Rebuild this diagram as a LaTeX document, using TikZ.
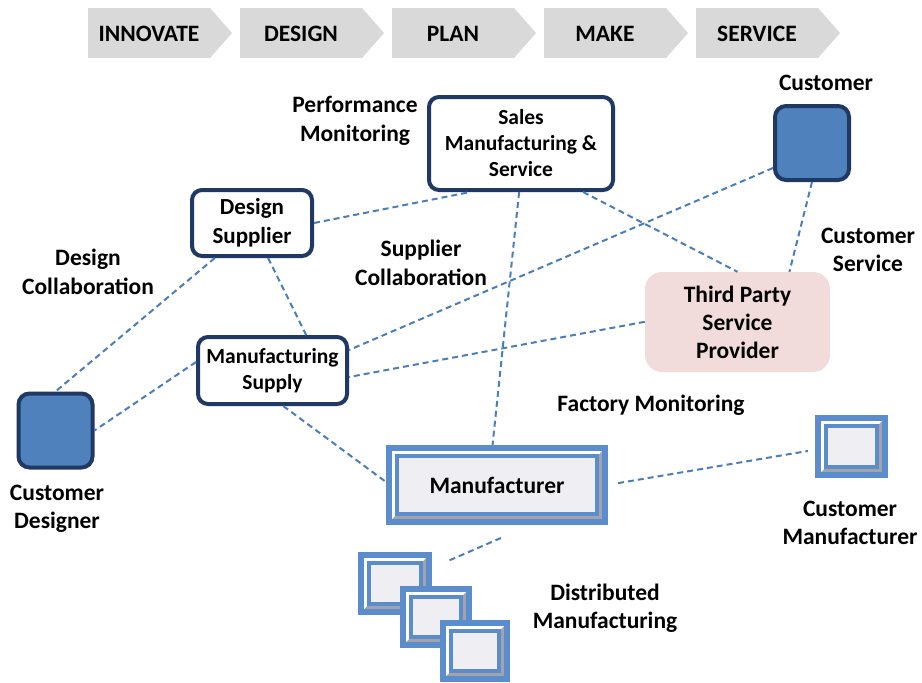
\documentclass[tikz,border=0pt]{standalone}
\usepackage{fontspec}
\setmainfont{Carlito}
\usetikzlibrary{calc}
\definecolor{navy}{HTML}{1F3864}
\definecolor{sqblue}{HTML}{4F81BD}
\definecolor{lineblue}{HTML}{4A7EBB}
\definecolor{frameblue}{HTML}{5B8CCB}
\definecolor{innerfill}{HTML}{EFEFF3}
\definecolor{bevgray}{HTML}{A3A3AB}
\definecolor{chevgray}{HTML}{D9D9D9}
\definecolor{pinkfill}{HTML}{F2DCDB}
\tikzset{
 lbl/.style={font=\fontsize{23.5}{28.5}\selectfont\bfseries, align=center, inner sep=0pt},
 rbox/.style={draw=navy, line width=4pt, rounded corners=10pt, fill=white, align=center, inner sep=0pt, font=\fontsize{23}{29}\selectfont\bfseries},
 smalltxt/.style={font=\fontsize{21.5}{26}\selectfont\bfseries},
 sqbox/.style={draw=navy, line width=4pt, rounded corners=11pt, fill=sqblue, minimum size=74pt, inner sep=0pt},
 conn/.style={draw=lineblue, line width=2pt, dash pattern=on 6pt off 4pt},
 chevshape/.style={fill=chevgray},
 chevtext/.style={font=\fontsize{23.5}{28}\selectfont\bfseries, inner sep=0pt}
}
\newcommand\bevframe[6]{%
 \fill[frameblue] (#2,#3) rectangle (#4,#5);
 \fill[bevgray] ({#2+6},{#3+6}) rectangle ({#4-6},{#5-6});
 \fill[white] ({#2+6},{#3+6}) -- ({#4-6},{#3+6}) -- ({#4-9},{#3+9}) -- ({#2+9},{#3+9}) -- ({#2+9},{#5-9}) -- ({#2+6},{#5-6}) -- cycle;
 \fill[frameblue] ({#2+9},{#3+9}) rectangle ({#4-9},{#5-9});
 \fill[innerfill] ({#2+13},{#3+13}) rectangle ({#4-13},{#5-13});
 \node[lbl, minimum width={(#4-#2)*1pt}, minimum height={(#5-#3)*1pt}] (#1) at ({(#2+#4)/2},{(#3+#5)/2}) {#6};
}
\begin{document}
\begin{tikzpicture}[x=1pt,y=-1pt]
\useasboundingbox[fill=white] (0,0) rectangle (922,683);
% process chevrons
\foreach \i/\t/\n in {0/INNOVATE/cinn,1/DESIGN/cdes0,2/PLAN/cplan,3/MAKE/cmake,4/SERVICE/cserv} {
  \pgfmathsetmacro\xs{88+152*\i}
  \fill[chevshape] (\xs,8) -- ({\xs+122},8) -- ({\xs+144},33) -- ({\xs+122},58) -- (\xs,58) -- cycle;
  \node[chevtext] (\n) at ({\xs+61},34) {\t};
}
% boxes
\node[rbox, smalltxt, minimum width=184pt, minimum height=93pt] (sales) at (521,143.5) {Sales\\Manufacturing \&\\Service};
\node[rbox, minimum width=120pt, minimum height=66pt] (dsup) at (252,223) {Design\\Supplier};
\node[rbox, smalltxt, minimum width=149pt, minimum height=67pt] (msup) at (272.5,370.5) {Manufacturing\\Supply};
\node[lbl, fill=pinkfill, rounded corners=17pt, minimum width=185pt, minimum height=100pt, font=\fontsize{23.5}{28}\selectfont\bfseries] (tp) at (737.5,322) {Third Party\\Service\\Provider};
\node[sqbox] (cust) at (812,143) {};
\node[sqbox] (cdes) at (55.5,430.5) {};
% framed boxes
\bevframe{man}{386}{445}{608}{525}{Manufacturer}
\bevframe{cman}{815}{415}{888}{478}{}
\bevframe{dist1}{358}{552}{432}{615}{}
\bevframe{dist2}{400}{586}{472}{648}{}
\bevframe{dist3}{440}{620}{510}{682}{}
% connectors
\draw[conn] (dsup.east) -- ($(sales.south west)!0.23!(sales.south east)$);
\draw[conn] ($(sales.south west)!0.49!(sales.south east)$) -- ($(man.north west)!0.48!(man.north east)$);
\draw[conn] ($(sales.south west)!0.83!(sales.south east)$) -- (tp.north);
\draw[conn] ($(cust.south west)+(0,-14)$) -- ($(msup.north east)+(0,15)$);
\draw[conn] (cust.south) -- ($(tp.north west)!0.78!(tp.north east)$);
\draw[conn] ($(tp.north west)+(0,50)$) -- ($(msup.north east)+(0,42)$);
\draw[conn] ($(dsup.south west)!0.63!(dsup.south east)$) -- ($(msup.north west)!0.72!(msup.north east)$);
\draw[conn] ($(dsup.south west)!0.2!(dsup.south east)$) -- (cdes.north);
\draw[conn] ($(msup.north west)+(0,27)$) -- ($(cdes.north east)+(0,39)$);
\draw[conn] ($(msup.south west)!0.57!(msup.south east)$) -- ($(man.north west)+(0,37)$);
\draw[conn, shorten <=10pt, shorten >=7pt] ($(man.north east)+(0,40)$) -- ($(cman.north west)+(0,35)$);
\draw[conn, shorten <=19pt, shorten >=29pt] ($(dist1.north east)+(0,16)$) -- ($(man.south west)!0.65!(man.south east)$);
% labels
\node[lbl] (lperf) at (355,121) {Performance\\Monitoring};
\node[lbl] (lcust) at (826,83) {Customer};
\node[lbl] (ldcol) at (88,272) {Design\\Collaboration};
\node[lbl] (lscol) at (421,263) {Supplier\\Collaboration};
\node[lbl] (lcserv) at (868,250) {Customer\\Service};
\node[lbl] (lfact) at (651,405) {Factory Monitoring};
\node[lbl] (lcdes) at (57,509) {Customer\\Designer};
\node[lbl] (lcman) at (850,523) {Customer\\Manufacturer};
\node[lbl] (ldist) at (605,608) {Distributed\\Manufacturing};
\end{tikzpicture}
\end{document}
